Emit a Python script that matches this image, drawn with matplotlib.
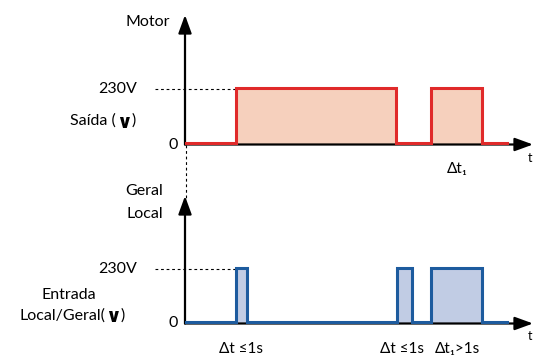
import matplotlib
matplotlib.use("Agg")
import matplotlib.pyplot as plt
import numpy as np

# ---- data ----
motor_t = [0, 51, 51, 211, 211, 246, 246, 297, 297, 322]
motor_v = [0, 0, 230, 230, 0, 0, 230, 230, 0, 0]
input_t = [0, 51, 51, 62, 62, 212, 212, 227, 227, 246, 246, 297, 297, 322]
input_v = [0, 0, 230, 230, 0, 0, 230, 230, 0, 0, 230, 230, 0, 0]
level_labels = ["230V", "0"]
bottom_labels = ["Δt ≤1s", "Δt ≤1s", "Δt₁>1s"]
bottom_label_t = [56, 217, 272]

W, H = 535, 356
FAM = ['Lato', 'DejaVu Sans']
plt.rcParams['font.family'] = FAM

fig = plt.figure(figsize=(W / 100, H / 100), dpi=100)

def px(x, y):
    return x / W, 1 - y / H

X0, X1 = 185, 533
YMAX = 540

def make_axes(y_base, y_top):
    ax = fig.add_axes([X0 / W, 1 - y_base / H, (X1 - X0) / W, (y_base - y_top) / H])
    ax.set_xlim(0, X1 - X0)
    ax.set_ylim(0, YMAX)
    ax.axis('off')
    ax.annotate('', xy=(0, 1), xytext=(0, 0), xycoords='axes fraction',
                arrowprops=dict(arrowstyle='-|>,head_length=1.1,head_width=0.4',
                                color='black', lw=1.6, shrinkA=0, shrinkB=0))
    ax.annotate('', xy=(1, 0), xytext=(0, 0), xycoords='axes fraction',
                arrowprops=dict(arrowstyle='-|>,head_length=1.1,head_width=0.4',
                                color='black', lw=1.6, shrinkA=0, shrinkB=0))
    return ax

# top panel
ax1 = make_axes(144.5, 15)
off = 6
ax1.fill_between(motor_t, 0, motor_v, color='#F6D0BD', lw=0, zorder=1)
ax1.plot(motor_t, np.array(motor_v) + off, color='#E02A2A', lw=2.2, zorder=3,
         solid_joinstyle='miter')
ax1.plot([-30, 51], [230, 230], ls=(0, (2.5, 2.5)), color='black', lw=0.8, clip_on=False)
ax1.plot([1, 1], [0, -225], ls=(0, (2.5, 2.5)), color='black', lw=0.8, clip_on=False)

# bottom panel
ax2 = make_axes(323.5, 196)
ax2.fill_between(input_t, 0, input_v, color='#C1CCE4', lw=0, zorder=1)
ax2.plot(input_t, np.array(input_v) + off, color='#1D5B9E', lw=2.2, zorder=3,
         solid_joinstyle='miter')
ax2.plot([-30, 51], [230, 230], ls=(0, (2.5, 2.5)), color='black', lw=0.8, clip_on=False)

fs = 11.5
def T(x, y, s, ha='right', size=fs, **kw):
    fig.text(*px(x, y), s, ha=ha, va='center', fontsize=size, family=FAM, **kw)

T(116, 121, "Saída (")
T(124, 122, "∨", ha='center', size=14, fontweight='bold')
T(132, 121, ")", ha='left')
T(170, 22, "Motor")
T(137, 89, level_labels[0])
T(178, 145, level_labels[1])
T(457, 169, "Δt₁", ha='center', size=11)
T(528, 158, "t", ha='left', size=9)

T(163, 191, "Geral")
T(163, 214, "Local")
T(137, 269, level_labels[0])
T(69, 295, "Entrada", ha='center')
T(105, 316, "Local/Geral(")
T(113, 317, "∨", ha='center', size=14, fontweight='bold')
T(121, 316, ")", ha='left')
T(178, 323, level_labels[1])
T(528, 336, "t", ha='left', size=9)
for s, t in zip(bottom_labels, bottom_label_t):
    xd = ax2.transData.transform((t, 0))[0]
    T(xd * 100 / fig.dpi, 349, s, ha='center', size=11)

fig.savefig("out.png", dpi=100)
